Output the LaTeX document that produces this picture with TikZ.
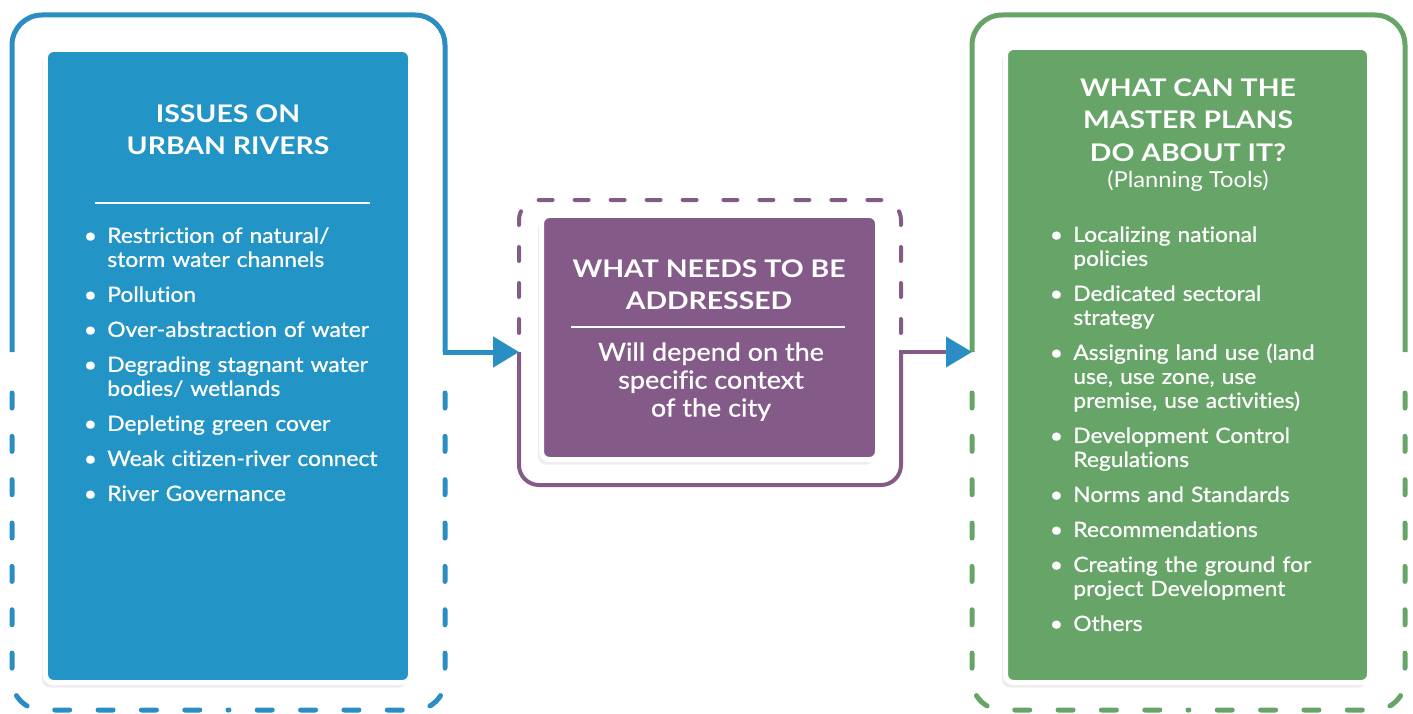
\documentclass[tikz,border=0pt]{standalone}
\usepackage{fontspec}
\setmainfont{Lato}[FakeStretch=1.08, Ligatures=NoCommon]
\newfontfamily\bodyfont{Lato}[FakeStretch=1.08, FakeBold=0.8, Ligatures=NoCommon]
\newfontfamily\headfont{Lato}[FakeStretch=1.17, Ligatures=NoCommon]
\usetikzlibrary{arrows.meta,shadows}

\definecolor{rivblue}{HTML}{2394C6}
\definecolor{rivline}{HTML}{2A8EC2}
\definecolor{needpurple}{HTML}{845A89}
\definecolor{toolgreen}{HTML}{66A467}

% one bullet line, hanging indent
\newcommand\bitem[1]{\hangindent=4.7mm\hangafter=1\noindent\makebox[4.7mm][l]{\textbullet}#1\par}

\tikzset{
	card/.style={rounded corners=1.6mm, draw=white, line width=1mm,
		drop shadow={shadow xshift=-0.7mm, shadow yshift=-1mm, opacity=0.14}},
	headtxt/.style={text=white, font=\headfont\bfseries\fontsize{13.8}{18.5}\selectfont, align=center, inner sep=0pt, anchor=north},
	listtxt/.style={text=white, font=\bodyfont\fontsize{12}{13.66}\selectfont, text width=75mm, align=left, inner sep=0pt, anchor=north west},
	solidframe/.style={line width=1mm, rounded corners=6mm},
	dashframe/.style={line width=1mm, rounded corners=6mm, line cap=round, dash pattern=on 3mm off 5.67mm},
	rulew/.style={white, line width=0.3mm},
}

\begin{document}
\begin{tikzpicture}[x=0.2mm, y=-0.2mm]
		%%%%% FRAME %%%%%
		\useasboundingbox (0,0) rectangle (1413,714);
		
		\coordinate (issuesOut) at (445,352);
		\coordinate (needsIn) at (519,352);
		\coordinate (needsOut) at (901,352);
		\coordinate (toolsIn) at (972,352);
		
		\draw[solidframe, rivline] (12,352) |- (228,15) -| (issuesOut);
		\draw[dashframe, rivline] (12,393) |- (228,710) (445,393) |- (228,710);
		
		\draw[line width=0.8mm, rounded corners=4mm, line cap=round, dash pattern=on 2.8mm off 4.4mm, needpurple] (519,333) |- (710,200) (901,333) |- (710,200);
		\draw[line width=0.8mm, rounded corners=4mm, needpurple] (needsIn) |- (710,485) -| (needsOut);
		
		\draw[solidframe, toolgreen] (toolsIn) |- (1188,15) -| (1405,352);
		\draw[dashframe, toolgreen] (972,393) |- (1188,710) (1405,393) |- (1188,710);
		
		\draw[line width=1mm, rivline, line cap=rect, -{Triangle[length=5.2mm, width=6mm]}] (issuesOut) -- (needsIn);
		\draw[line width=0.8mm, needpurple, line cap=rect, -{Triangle[length=5.2mm, width=6mm, color=rivline]}] (needsOut) -- (toolsIn);
		
		%%%%% BOXES %%%%%
		\node[card, fill=rivblue, minimum width=73mm, minimum height=126.6mm] (issues) at (228,366) {};
		\node[card, fill=needpurple, minimum width=67.2mm, minimum height=48.8mm] (needs) at (709.5,337.5) {};
		\node[card, fill=toolgreen, minimum width=72.8mm, minimum height=127mm] (tools) at (1187.5,365) {};
		
		%%%%% TEXT %%%%%
		\node[headtxt] (issuesHead) at (228,104) {ISSUES ON\\URBAN RIVERS};
		\draw[rulew] (95,203) -- (370,203);
		\node[listtxt] (issuesList) at (83.5,227) {\setlength\parskip{2.2mm}%
			\bitem{Restriction of natural/\newline storm water channels}
			\bitem{Pollution}
			\bitem{Over-abstraction of water}
			\bitem{Degrading stagnant water\newline bodies/ wetlands}
			\bitem{Depleting green cover}
			\bitem{Weak citizen-river connect}
			\bitem{River Governance}};
		
		\node[headtxt] (needsHead) at (709,259) {WHAT NEEDS TO BE\\ADDRESSED};
		\draw[rulew] (571,327) -- (845,327);
		\node[text=white, font=\bodyfont\fontsize{14.2}{15.9}\selectfont, align=center, inner sep=0pt, anchor=north] (needsBody) at (711,342) {Will depend on the\\specific context\\of the city};
		
		\node[headtxt] (toolsHead) at (1188,78) {WHAT CAN THE\\MASTER PLANS\\DO ABOUT IT?};
		\node[text=white, font=\fontsize{12.5}{15}\selectfont, inner sep=0pt] (toolsSub) at (1188,181) {(Planning Tools)};
		\node[listtxt] (toolsList) at (1049.5,226) {\setlength\parskip{2.2mm}%
			\bitem{Localizing national\newline policies}
			\bitem{Dedicated sectoral\newline strategy}
			\bitem{Assigning land use (land\newline use, use zone, use\newline premise, use activities)}
			\bitem{Development Control\newline Regulations}
			\bitem{Norms and Standards}
			\bitem{Recommendations}
			\bitem{Creating the ground for\newline project Development}
			\bitem{Others}};
		
		%%%%% END %%%%%
\end{tikzpicture}
\end{document}
